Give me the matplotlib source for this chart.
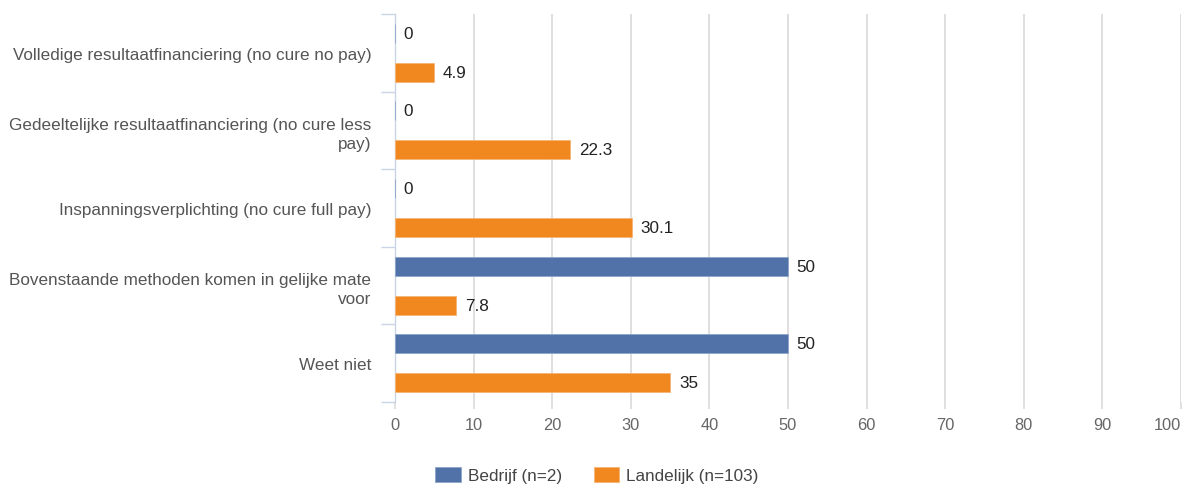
import numpy as np
import matplotlib.pyplot as plt

plt.rcParams['font.family'] = ['Liberation Sans', 'DejaVu Sans']

# data
categories = [
    'Volledige resultaatfinanciering (no cure no pay)',
    'Gedeeltelijke resultaatfinanciering (no cure less\npay)',
    'Inspanningsverplichting (no cure full pay)',
    'Bovenstaande methoden komen in gelijke mate\nvoor',
    'Weet niet',
]
bedrijf = [0, 0, 0, 50, 50]
landelijk = [4.9, 22.3, 30.1, 7.8, 35]
bedrijf_labels = ['0', '0', '0', '50', '50']
landelijk_labels = ['4.9', '22.3', '30.1', '7.8', '35']
x_ticks = [0, 10, 20, 30, 40, 50, 60, 70, 80, 90, 100]

blue = '#5072a9'
orange = '#f0881f'
axis_col = '#c9d4e4'
grid_col = '#dcdcdc'
fs = 12.3

fig = plt.figure(figsize=(11.87, 4.89), dpi=100)
ax = fig.add_axes([395 / 1187, 1 - 403 / 489, (1181 - 395) / 1187, (403 - 15) / 489])

y = np.arange(len(categories))
h = 0.245
off = 0.251
ax.barh(y - off, bedrijf, height=h, color=blue, edgecolor='#8fa6c9', linewidth=0.6,
        label='Bedrijf (n=2)', zorder=3)
ax.barh(y + off, landelijk, height=h, color=orange, edgecolor='#f5b478', linewidth=0.6,
        label='Landelijk (n=103)', zorder=3)

# waarden naast de balken
for i in range(len(categories)):
    ax.annotate(bedrijf_labels[i], (bedrijf[i], y[i] - off), xytext=(8, 0),
                textcoords='offset pixels', va='center', ha='left', fontsize=fs, color='#222222')
    ax.annotate(landelijk_labels[i], (landelijk[i], y[i] + off), xytext=(9, 0),
                textcoords='offset pixels', va='center', ha='left', fontsize=fs, color='#222222')

ax.set_xlim(0, 100)
ax.set_ylim(len(categories) - 0.5, -0.5)

# rasterlijnen
for xv in x_ticks[1:]:
    ax.axvline(xv, color=grid_col, linewidth=1.3, zorder=1)

ax.set_xticks(x_ticks)
ax.set_xticklabels([str(v) for v in x_ticks])
ax.tick_params(axis='x', length=5, width=1.2, color=grid_col, labelsize=11.8,
               labelcolor='#666666', pad=6)
ax.get_xticklabels()[-1].set_ha('right')

ax.set_yticks(y)
ax.set_yticklabels(categories, linespacing=1.35)
ax.tick_params(axis='y', which='major', length=0, pad=17, labelsize=fs, labelcolor='#555555')
ax.set_yticks(np.arange(len(categories) + 1) - 0.5, minor=True)
ax.tick_params(axis='y', which='minor', length=10, width=1, color=axis_col)

for s in ['top', 'right', 'bottom']:
    ax.spines[s].set_visible(False)
ax.spines['left'].set_color(axis_col)
ax.spines['left'].set_linewidth(1)

fig.legend(loc='center', bbox_to_anchor=(597 / 1187, 1 - 476 / 489), ncol=2, frameon=False,
           fontsize=fs, handlelength=1.47, handleheight=0.94, handletextpad=0.41,
           columnspacing=1.9, labelcolor='#444444')

fig.savefig('out.png', dpi=100)
